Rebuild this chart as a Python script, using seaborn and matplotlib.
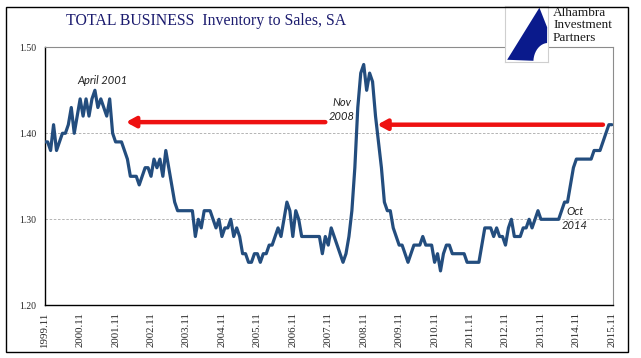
import numpy as np
import pandas as pd
import matplotlib.pyplot as plt
import seaborn as sns
from matplotlib.patches import Rectangle, Polygon

# monthly total business inventory/sales ratio, 1999.11 .. 2015.11
ratio = [
    1.39, 1.39, 1.38, 1.41, 1.38, 1.39, 1.40, 1.40, 1.41, 1.43,
    1.40, 1.42, 1.44, 1.42, 1.44, 1.42, 1.44, 1.45, 1.43, 1.44,
    1.43, 1.42, 1.44, 1.40, 1.39, 1.39, 1.39, 1.38, 1.37, 1.35,
    1.35, 1.35, 1.34, 1.35, 1.36, 1.36, 1.35, 1.37, 1.36, 1.37,
    1.35, 1.38, 1.36, 1.34, 1.32, 1.31, 1.31, 1.31, 1.31, 1.31,
    1.31, 1.28, 1.30, 1.29, 1.31, 1.31, 1.31, 1.30, 1.29, 1.30,
    1.28, 1.29, 1.29, 1.30, 1.28, 1.29, 1.28, 1.26, 1.26, 1.25,
    1.25, 1.26, 1.26, 1.25, 1.26, 1.26, 1.27, 1.27, 1.28, 1.29,
    1.28, 1.30, 1.32, 1.31, 1.28, 1.31, 1.30, 1.28, 1.28, 1.28,
    1.28, 1.28, 1.28, 1.28, 1.26, 1.28, 1.27, 1.29, 1.28, 1.27,
    1.26, 1.25, 1.26, 1.28, 1.31, 1.36, 1.43, 1.47, 1.48, 1.45,
    1.47, 1.46, 1.42, 1.39, 1.36, 1.32, 1.31, 1.31, 1.29, 1.28,
    1.27, 1.27, 1.26, 1.25, 1.26, 1.27, 1.27, 1.27, 1.28, 1.27,
    1.27, 1.27, 1.25, 1.26, 1.24, 1.26, 1.27, 1.27, 1.26, 1.26,
    1.26, 1.26, 1.26, 1.25, 1.25, 1.25, 1.25, 1.25, 1.27, 1.29,
    1.29, 1.29, 1.28, 1.29, 1.28, 1.28, 1.27, 1.29, 1.30, 1.28,
    1.28, 1.28, 1.29, 1.29, 1.30, 1.29, 1.30, 1.31, 1.30, 1.30,
    1.30, 1.30, 1.30, 1.30, 1.30, 1.31, 1.32, 1.32, 1.34, 1.36,
    1.37, 1.37, 1.37, 1.37, 1.37, 1.37, 1.38, 1.38, 1.38, 1.39,
    1.40, 1.41, 1.41,
]
tick_labels = ["%d.11" % y for y in range(1999, 2016)]
y_ticks = [1.20, 1.30, 1.40, 1.50]

# red arrows: (from month, to month, level)
arrow_from = [95, 189]
arrow_to = [27.5, 112.6]
arrow_level = [1.413, 1.41]

notes = ["April 2001", "Nov\n2008", "Oct\n2014"]
note_x = [19.7, 100.7, 179.4]
note_y = [1.461, 1.428, 1.301]

df = pd.DataFrame({"month": np.arange(len(ratio)), "ratio": ratio})

sns.set_style("white")
plt.rcParams["font.family"] = ["Liberation Serif", "DejaVu Serif"]

fig = plt.figure(figsize=(6.41, 3.58), dpi=100)
ax = fig.add_axes([44.7 / 641, 1 - 305.3 / 358, (612.7 - 44.7) / 641, (305.3 - 47.3) / 358])

sns.lineplot(data=df, x="month", y="ratio", ax=ax, color="#234d7e", lw=2.3, zorder=3)

ax.set_xlim(0, 192.3)
ax.set_ylim(1.20, 1.50)
ax.set_yticks(y_ticks)
ax.set_yticklabels(["%.2f" % v for v in y_ticks], fontsize=7)
ax.set_xticks(np.arange(0, len(ratio), 12))
ax.set_xticklabels(tick_labels, rotation=90, fontsize=7.8)
ax.set_xticks(np.arange(len(ratio)), minor=True)
ax.tick_params(axis="x", which="both", direction="out", length=3, width=0.6, color="black", pad=2)
ax.tick_params(axis="y", direction="out", length=4, width=0.8, color="black", pad=2)
ax.set_xlabel("")
ax.set_ylabel("")
ax.yaxis.grid(True, linestyle=(0, (3, 2)), color="#a8a8a8", lw=0.6)
for s in ["left", "bottom"]:
    ax.spines[s].set_color("black")
    ax.spines[s].set_linewidth(1.0)
for s in ["top", "right"]:
    ax.spines[s].set_color("#8c8c8c")
    ax.spines[s].set_linewidth(0.8)

for x0, x1, lv in zip(arrow_from, arrow_to, arrow_level):
    ax.annotate("", xy=(x1, lv), xytext=(x0, lv),
                arrowprops=dict(arrowstyle="-|>,head_length=0.55,head_width=0.3",
                                color="#ee1111", lw=3.2, shrinkA=0, shrinkB=0), zorder=4)

for t, x, y in zip(notes, note_x, note_y):
    ax.text(x, y, t, ha="center", va="center", fontsize=8, style="italic",
            family=["Lato", "Liberation Sans"], color="#222222", linespacing=1.35, zorder=5)

fig.text(66 / 641, 1 - 21 / 358, "TOTAL BUSINESS  Inventory to Sales, SA",
         ha="left", va="center", fontsize=11.4, color="#1b1b6e")

# logo
logo = fig.add_axes([505 / 641, 1 - 62 / 358, 43 / 641, 56 / 358])
logo.set_xlim(0, 1)
logo.set_ylim(0, 1)
logo.set_xticks([])
logo.set_yticks([])
for s in logo.spines.values():
    s.set_color("#cfcfcf")
    s.set_linewidth(0.8)
ang = np.linspace(np.pi * 0.98, np.pi * 0.52, 12)
arc = [(1.0 + 0.34 * np.cos(a), 0.0 + 0.34 * np.sin(a)) for a in ang]
pts = [(0.80, 0.97), (0.05, 0.04)] + arc + [(0.98, 0.62)]
logo.add_patch(Polygon(pts, closed=True, color="#0a1a8c", lw=0))
fig.text(553 / 641, 1 - 7 / 358, "Alhambra\nInvestment\nPartners", ha="left", va="top",
         fontsize=9.5, color="#1a1a1a", linespacing=1.05)

fig.patches.append(Rectangle((6 / 641, 1 - 352 / 358), 622 / 641, 345 / 358,
                             transform=fig.transFigure, fill=False, ec="black", lw=1.0))

fig.savefig("out.png", dpi=100)
